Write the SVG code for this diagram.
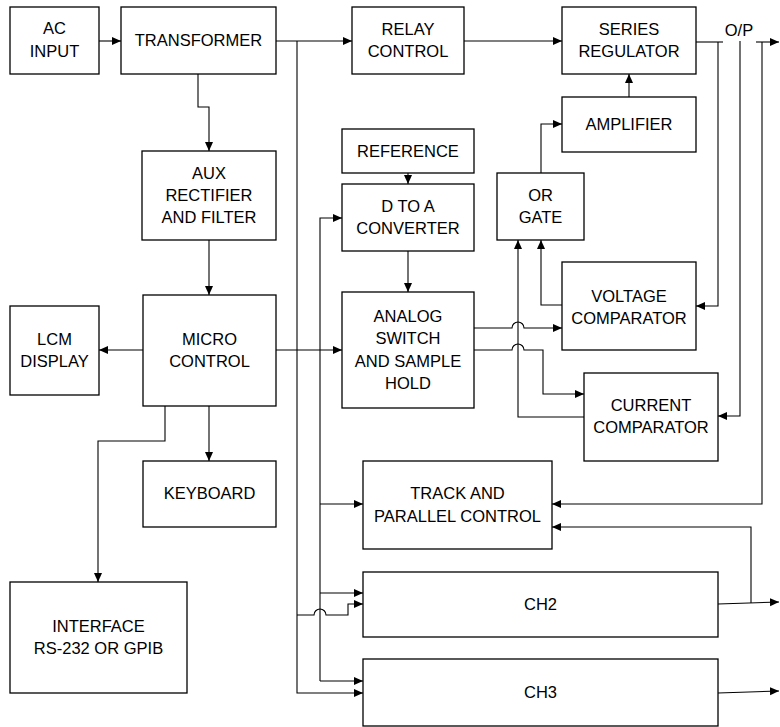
<svg xmlns="http://www.w3.org/2000/svg" width="780" height="727" viewBox="0 0 780 727">
<defs>
<style>
.box{fill:#fff;stroke:#000;stroke-width:1.3}
.t{font-family:"Liberation Sans",Arial,sans-serif;font-size:16.5px;fill:#000;text-anchor:middle}
.c{fill:none;stroke:#000;stroke-width:1.1}
.a{marker-end:url(#arr)}
</style>
<marker id="arr" markerUnits="userSpaceOnUse" markerWidth="10" markerHeight="10" refX="9" refY="4" orient="auto">
<path d="M0,0 L9,4 L0,8 Z" fill="#000"/>
</marker>
</defs>
<rect width="780" height="727" fill="#fff"/>
<g id="connectors">
<path class="c a" d="M99,41 H121"/>
<path class="c a" d="M276,41 H352"/>
<path class="c a" d="M297,41 V693 H363"/>
<path class="c a" d="M464,41 H562"/>
<path class="c" d="M696,42 H723"/>
<path class="c a" d="M756,42 H779"/>
<path class="c a" d="M718,42 V306 H696"/>
<path class="c a" d="M740,41 V416 H718"/>
<path class="c a" d="M762,42 V504 H552"/>
<path class="c a" d="M629,97 V74"/>
<path class="c a" d="M541,173 V124 H562"/>
<path class="c a" d="M408,173 V184"/>
<path class="c a" d="M408,251 V292"/>
<path class="c a" d="M320,681 V218 H342"/>
<path class="c a" d="M320,681 H363"/>
<path class="c a" d="M320,504 H363"/>
<path class="c a" d="M320,593 H363"/>
<path class="c a" d="M297,615 H314 A6,6 0 0 1 326,615 H348 V604 H363"/>
<path class="c a" d="M474,328 H512 A6,6 0 0 1 524,328 H562"/>
<path class="c a" d="M474,350 H512 A6,6 0 0 1 524,350 H543 V394 H584"/>
<path class="c a" d="M584,417 H518 V240"/>
<path class="c a" d="M562,305 H541 V240"/>
<path class="c a" d="M198,74 V107 H209 V151"/>
<path class="c a" d="M209,240 V295"/>
<path class="c a" d="M143,350 H99"/>
<path class="c a" d="M276,350 H342"/>
<path class="c a" d="M209,406 V461"/>
<path class="c a" d="M165,406 V441 H98 V582"/>
<path class="c a" d="M718,604 L779,602"/>
<path class="c a" d="M751,603 V527 H552"/>
<path class="c a" d="M718,693 L779,691"/>
</g>
<text class="t" x="739" y="36">O/P</text>
<g id="ac-input"><rect class="box" x="10" y="7" width="89" height="67"/><text class="t" x="54.5" y="34">AC</text><text class="t" x="54.5" y="57">INPUT</text></g>
<g id="transformer"><rect class="box" x="121" y="7" width="155" height="67"/><text class="t" x="198.5" y="46">TRANSFORMER</text></g>
<g id="relay-control"><rect class="box" x="352" y="7" width="112" height="67"/><text class="t" x="408" y="35">RELAY</text><text class="t" x="408" y="57">CONTROL</text></g>
<g id="series-regulator"><rect class="box" x="562" y="7" width="134" height="67"/><text class="t" x="629" y="35">SERIES</text><text class="t" x="629" y="57">REGULATOR</text></g>
<g id="amplifier"><rect class="box" x="562" y="97" width="134" height="55"/><text class="t" x="629" y="130">AMPLIFIER</text></g>
<g id="reference"><rect class="box" x="342" y="129" width="132" height="44"/><text class="t" x="408" y="157">REFERENCE</text></g>
<g id="d-to-a"><rect class="box" x="342" y="184" width="132" height="67"/><text class="t" x="408" y="212">D TO A</text><text class="t" x="408" y="234">CONVERTER</text></g>
<g id="or-gate"><rect class="box" x="497" y="173" width="87" height="67"/><text class="t" x="540.5" y="201">OR</text><text class="t" x="540.5" y="223">GATE</text></g>
<g id="aux-rectifier"><rect class="box" x="142" y="151" width="134" height="89"/><text class="t" x="209" y="179">AUX</text><text class="t" x="209" y="201">RECTIFIER</text><text class="t" x="209" y="223">AND FILTER</text></g>
<g id="micro-control"><rect class="box" x="143" y="295" width="133" height="111"/><text class="t" x="209.5" y="345">MICRO</text><text class="t" x="209.5" y="367">CONTROL</text></g>
<g id="lcm-display"><rect class="box" x="10" y="306" width="89" height="89"/><text class="t" x="54.5" y="345">LCM</text><text class="t" x="54.5" y="367">DISPLAY</text></g>
<g id="analog-switch"><rect class="box" x="342" y="292" width="132" height="116"/><text class="t" x="408" y="322">ANALOG</text><text class="t" x="408" y="344">SWITCH</text><text class="t" x="408" y="367">AND SAMPLE</text><text class="t" x="408" y="389">HOLD</text></g>
<g id="voltage-comparator"><rect class="box" x="562" y="262" width="134" height="88"/><text class="t" x="629" y="302">VOLTAGE</text><text class="t" x="629" y="324">COMPARATOR</text></g>
<g id="current-comparator"><rect class="box" x="584" y="373" width="134" height="88"/><text class="t" x="651" y="411">CURRENT</text><text class="t" x="651" y="433">COMPARATOR</text></g>
<g id="keyboard"><rect class="box" x="143" y="461" width="133" height="66"/><text class="t" x="209.5" y="499">KEYBOARD</text></g>
<g id="track-parallel"><rect class="box" x="363" y="461" width="189" height="88"/><text class="t" x="457.5" y="499">TRACK AND</text><text class="t" x="457.5" y="522">PARALLEL CONTROL</text></g>
<g id="interface"><rect class="box" x="10" y="582" width="177" height="111"/><text class="t" x="98.5" y="632">INTERFACE</text><text class="t" x="98.5" y="654">RS-232 OR GPIB</text></g>
<g id="ch2"><rect class="box" x="363" y="572" width="355" height="65"/><text class="t" x="540.5" y="610">CH2</text></g>
<g id="ch3"><rect class="box" x="363" y="659" width="355" height="67"/><text class="t" x="540.5" y="698">CH3</text></g>
</svg>
